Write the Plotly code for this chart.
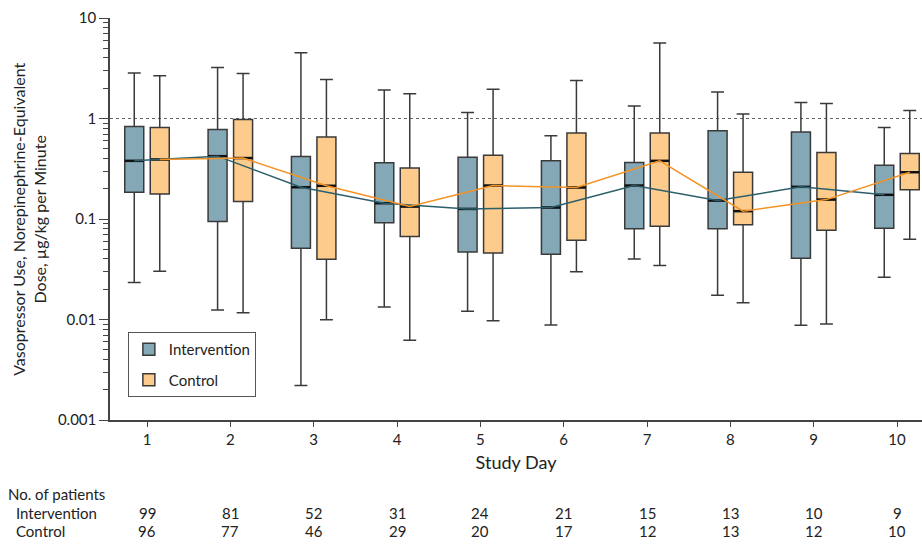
import plotly.graph_objects as go

days = [1, 2, 3, 4, 5, 6, 7, 8, 9, 10]

# Intervention box statistics (µg/kg per minute)
int_upper = [2.83, 3.22, 4.51, 1.92, 1.15, 0.673, 1.33, 1.83, 1.44, 0.814]
int_q3 = [0.832, 0.777, 0.419, 0.362, 0.412, 0.379, 0.365, 0.754, 0.732, 0.343]
int_median = [0.379, 0.422, 0.207, 0.1436, 0.126, 0.130, 0.215, 0.1525, 0.209, 0.174]
int_q1 = [0.185, 0.0942, 0.0512, 0.0920, 0.047, 0.0445, 0.0801, 0.0801, 0.0407, 0.0809]
int_lower = [0.0234, 0.01245, 0.00221, 0.01333, 0.0121, 0.0088, 0.0401, 0.0174, 0.00875, 0.0263]

# Control box statistics
ctl_upper = [2.66, 2.81, 2.44, 1.76, 1.95, 2.39, 5.64, 1.11, 1.41, 1.20]
ctl_q3 = [0.814, 0.977, 0.653, 0.321, 0.431, 0.716, 0.716, 0.292, 0.458, 0.448]
ctl_median = [0.391, 0.404, 0.214, 0.133, 0.215, 0.206, 0.379, 0.1197, 0.156, 0.292]
ctl_q1 = [0.177, 0.149, 0.0398, 0.0668, 0.0459, 0.0615, 0.0847, 0.0879, 0.0773, 0.196]
ctl_lower = [0.0302, 0.0117, 0.00996, 0.0062, 0.00973, 0.0299, 0.0344, 0.0147, 0.00902, 0.063]

n_intervention = [99, 81, 52, 31, 24, 21, 15, 13, 10, 9]
n_control = [96, 77, 46, 29, 20, 17, 12, 13, 12, 10]

y_tickvals = [0.001, 0.01, 0.1, 1, 10]
y_ticktext = ["0.001", "0.01", "0.1", "1", "10"]

FONT = "Lato, 'Liberation Sans', Arial, sans-serif"
OFF = 0.153
BW = 0.228

INT_FILL = "#84A8B6"
INT_LINE = "#2C5E6C"
CTL_FILL = "#FDCB8B"
CTL_LINE = "#F39325"
EDGE = "#3A3A3A"

x_int = [d - OFF for d in days]
x_ctl = [d + OFF for d in days]

fig = go.Figure()

fig.add_trace(go.Box(
    name="Intervention", legendgroup="int", x=x_int, q1=int_q1, median=int_median, q3=int_q3,
    lowerfence=int_lower, upperfence=int_upper, width=BW, whiskerwidth=0.68,
    fillcolor=INT_FILL, line=dict(color=EDGE, width=1.5), boxpoints=False,
))
fig.add_trace(go.Box(
    name="Control", legendgroup="ctl", x=x_ctl, q1=ctl_q1, median=ctl_median, q3=ctl_q3,
    lowerfence=ctl_lower, upperfence=ctl_upper, width=BW, whiskerwidth=0.68,
    fillcolor=CTL_FILL, line=dict(color=EDGE, width=1.5), boxpoints=False,
))

# thicker median bars
def med_segments(xs, meds):
    sx, sy = [], []
    for x, m in zip(xs, meds):
        sx += [x - BW / 2, x + BW / 2, None]
        sy += [m, m, None]
    return sx, sy

for xs, meds in ((x_int, int_median), (x_ctl, ctl_median)):
    sx, sy = med_segments(xs, meds)
    fig.add_trace(go.Scatter(x=sx, y=sy, mode="lines", line=dict(color="#111111", width=2.5),
                             showlegend=False, hoverinfo="skip"))

fig.add_trace(go.Scatter(x=x_int, y=int_median, mode="lines", line=dict(color=INT_LINE, width=1.5),
                         showlegend=False, hoverinfo="skip"))
fig.add_trace(go.Scatter(x=x_ctl, y=ctl_median, mode="lines", line=dict(color=CTL_LINE, width=1.5),
                         showlegend=False, hoverinfo="skip"))

fig.add_shape(type="line", xref="paper", x0=0, x1=1, yref="y", y0=1, y1=1,
              line=dict(color="#666666", width=1, dash="dot"), layer="below")

# patient counts table
ann = []
row_y = {"head": -0.184, "int": -0.232, "ctl": -0.277}
ann.append(dict(text="No. of patients", xref="paper", x=-0.128, yref="paper", y=row_y["head"],
                xanchor="left", yanchor="middle", showarrow=False))
ann.append(dict(text="Intervention", xref="paper", x=-0.118, yref="paper", y=row_y["int"],
                xanchor="left", yanchor="middle", showarrow=False))
ann.append(dict(text="Control", xref="paper", x=-0.118, yref="paper", y=row_y["ctl"],
                xanchor="left", yanchor="middle", showarrow=False))
for d, ni, nc in zip(days, n_intervention, n_control):
    ann.append(dict(text=str(ni), xref="x", x=d, yref="paper", y=row_y["int"],
                    xanchor="center", yanchor="middle", showarrow=False))
    ann.append(dict(text=str(nc), xref="x", x=d, yref="paper", y=row_y["ctl"],
                    xanchor="center", yanchor="middle", showarrow=False))
ann.append(dict(text="Vasopressor Use, Norepinephrine-Equivalent<br>Dose, µg/kg per Minute",
                xref="paper", x=-0.100, yref="paper", y=0.5, textangle=-90,
                xanchor="center", yanchor="middle", showarrow=False, font=dict(size=16)))

fig.update_layout(
    width=922, height=559,
    margin=dict(l=110, r=0, t=18, b=139),
    paper_bgcolor="white", plot_bgcolor="white",
    font=dict(family=FONT, size=15, color="#222222"),
    showlegend=True,
    legend=dict(x=0.022, y=0.219, xanchor="left", yanchor="top",
                bordercolor="#555555", borderwidth=1, bgcolor="white",
                font=dict(size=15), traceorder="grouped", tracegroupgap=8),
    annotations=ann,
    xaxis=dict(range=[0.556, 10.30], tickmode="array", tickvals=days,
               ticktext=[str(d) for d in days], ticks="outside", ticklen=5,
               tickcolor="#444444", showline=True, linecolor="#444444", linewidth=1.5,
               showgrid=False, zeroline=False, automargin=False,
               title=dict(text="Study Day", standoff=10)),
    yaxis=dict(type="log", range=[-3, 1], tickmode="array", tickvals=y_tickvals,
               ticktext=y_ticktext, ticks="outside", ticklen=9, tickcolor="#444444",
               showline=True, linecolor="#444444", linewidth=1.5, showgrid=False,
               zeroline=False, automargin=False,
               minor=dict(ticks="outside", ticklen=5, tickcolor="#444444", dtick="D1",
                          showgrid=False)),
)

fig.write_html("out.html", config={"displayModeBar": False},
               post_script="document.body.style.margin='0';document.body.style.overflow='hidden';")
